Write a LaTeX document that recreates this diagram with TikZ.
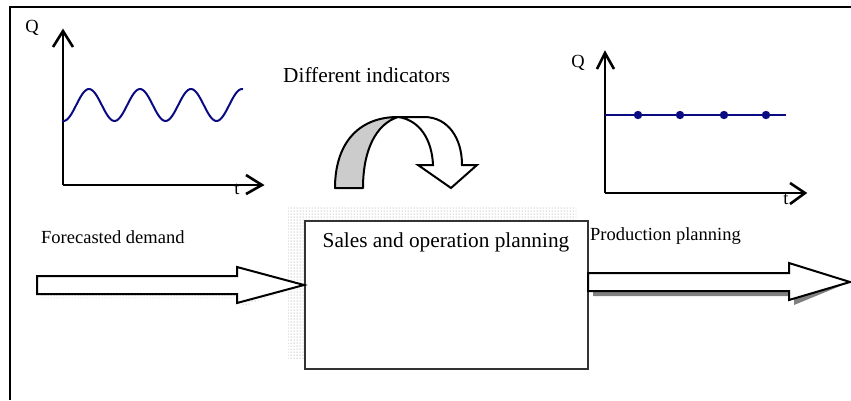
\documentclass[tikz,border=0pt]{standalone}
\usepackage{fontspec}
\setmainfont{Liberation Serif}
\usetikzlibrary{patterns}
\definecolor{navy}{RGB}{10,10,130}
\definecolor{shadowgray}{RGB}{128,128,128}
\begin{document}
\begin{tikzpicture}[x=1pt,y=-1pt,
  axis/.style={line width=2.6pt, line join=miter},
  lbl/.style={inner sep=0pt, font=\fontsize{18.5}{20}\selectfont},
  big/.style={inner sep=0pt, font=\fontsize{21.3}{24}\selectfont},
  blockarrow/.style={draw=black, line width=2pt, fill=white, line join=miter},
  dotshadow/.style={pattern=dots, pattern color=black!45},
  navyline/.style={draw=navy, line width=2pt}]
\useasboundingbox (0,0) rectangle (851,400);
% outer frame
\draw[line width=2pt] (10,400) -- (10,7) -- (851,7);

% left graph
\coordinate (o1) at (63,185);
\draw[axis] (o1) -- (63,31);
\draw[axis] (53,47) -- (63,31) -- (73,47);
\draw[axis] (o1) -- (262,185);
\draw[axis] (246,175) -- (262,185) -- (246,194);
\node[lbl] (q1) at (32,28) {Q};
\node[lbl] (t1) at (237,189) {t};
\draw[navyline] plot[domain=62:243, samples=120, smooth] (\x, {105-16*cos(7.0588*(\x-89))});

% right graph
\coordinate (o2) at (605,193);
\draw[axis] (o2) -- (605,53);
\draw[axis] (597,69) -- (605,53) -- (614,69);
\draw[axis] (o2) -- (805,193);
\draw[axis] (790,183) -- (805,193) -- (790,204);
\node[lbl] (q2) at (578,63) {Q};
\node[lbl] (t2) at (786,199) {t};
\draw[navyline] (605,115) -- (786,115);
\foreach \i/\xx in {1/638,2/680,3/724,4/766}
  \fill[navy] (\xx,115) circle (4.2);

% curved arrow
\node[big, anchor=west] (ind) at (283,75) {Different indicators};
\draw[line width=2pt, fill=black!20, line join=round]
  (335,188) .. controls (335,145) and (357,117) .. (398,117)
  .. controls (376,124) and (363,150) .. (363,188) -- cycle;
\draw[line width=2pt, fill=white, line join=miter]
  (398,117) -- (424,117) .. controls (448,117) and (462,138) .. (462,165)
  -- (477,165) -- (451,188) -- (418,165) -- (433,165)
  .. controls (432,140) and (420,120) .. (398,117) -- cycle;

% main box with dotted shadow
\fill[dotshadow] (288,206) rectangle (576,358);
\node[draw=black!80, line width=2pt, fill=white, minimum width=283pt,
  minimum height=148pt, inner sep=0pt, anchor=north west] (sop) at (304,220) {};
\node[big] (soptext) at (446,242) {Sales and operation planning};

% forecasted demand arrow
\coordinate (tipin) at (304,285);
\fill[dotshadow, xshift=4pt, yshift=-4pt]
  (37,276) -- (237,276) -- (237,267) -- (tipin) -- (237,303) -- (237,294) -- (37,294) -- cycle;
\draw[blockarrow]
  (37,276) -- (237,276) -- (237,267) -- (tipin) -- (237,303) -- (237,294) -- (37,294) -- cycle;
\node[lbl, anchor=west] (fd) at (41,237) {Forecasted demand};

% production planning arrow
\coordinate (tipout) at (850,282);
\fill[shadowgray, xshift=5pt, yshift=-5pt]
  (588,273) -- (789,273) -- (789,263) -- (tipout) -- (789,300) -- (789,291) -- (588,291) -- cycle;
\draw[blockarrow]
  (588,273) -- (789,273) -- (789,263) -- (tipout) -- (789,300) -- (789,291) -- (588,291) -- cycle;
\node[lbl, anchor=west] (pp) at (590,236) {Production planning};
\end{tikzpicture}
\end{document}
